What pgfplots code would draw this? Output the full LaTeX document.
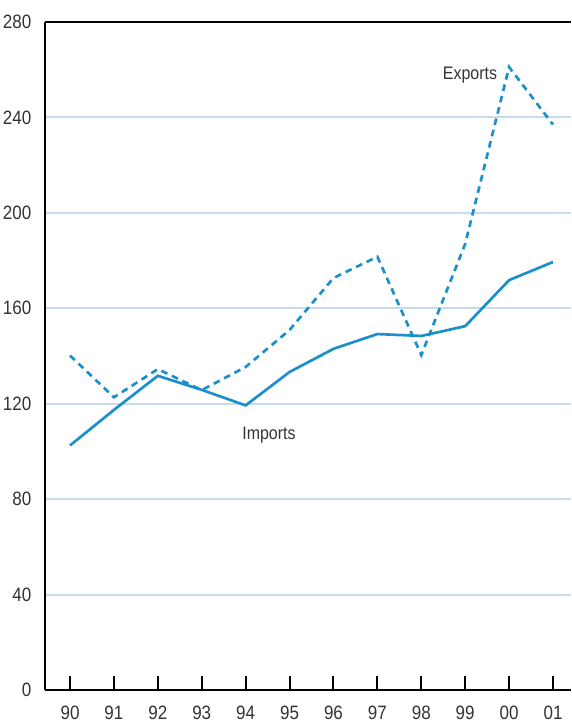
\documentclass[border=0pt]{standalone}
\usepackage{pgfplots}
\pgfplotsset{compat=1.18}
\usepackage{fontspec}
\setmainfont{Liberation Sans}[FakeStretch=0.88]
\definecolor{lineblue}{HTML}{1A8FCA}
\definecolor{gridblue}{HTML}{C6DBEC}
\definecolor{txt}{HTML}{333333}
\begin{document}
\begin{tikzpicture}
\path[use as bounding box] (-33.75pt,-24.75pt) rectangle (394.5pt,517.5pt);
\begin{axis}[
  at={(0,0)}, anchor=south west,
  scale only axis, width=394.5pt, height=501pt,
  xmin=-0.57, xmax=11.41, ymin=0, ymax=280,
  axis lines=left, axis line style={line width=1.5pt, black, -},
  xtick={0,...,11},
  xticklabels={90,91,92,93,94,95,96,97,98,99,00,01},
  ytick={0,40,...,280},
  ymajorgrids, grid style={gridblue, line width=1.5pt},
  major tick length=10.5pt,
  x tick style={line width=1.5pt, black},
  xtick align=inside,
  y tick style={draw=none},
  tick label style={font=\fontsize{14.5}{15}\selectfont, text=txt},
  /pgf/number format/assume math mode=true,
  xticklabel style={yshift=-8.5pt},
  yticklabel style={xshift=-1.5pt},
  clip=false,
]
\addplot[lineblue, line width=2pt] coordinates {
(0,102.5) (1,117.4) (2,131.7) (3,125.8) (4,119.3) (5,133.3) (6,143) (7,149.2) (8,148.4) (9,152.5) (10,171.8) (11,179.4)};
\addplot[lineblue, line width=2pt, dash pattern=on 5pt off 3.75pt] coordinates {
(0,140.2) (1,122.7) (2,134.5) (3,125.7) (4,135.4) (5,150.9) (6,172.7) (7,181.6) (8,140.4) (9,187) (10,261.1) (11,237)};
\draw[black, line width=1.5pt] (rel axis cs:0,1) -- (rel axis cs:1,1);
\node[text=txt, font=\fontsize{13.6}{14}\selectfont] at (axis cs:9.11,257.7) {Exports};
\node[text=txt, font=\fontsize{13.6}{14}\selectfont] at (axis cs:4.53,106.9) {Imports};
\end{axis}
\end{tikzpicture}
\end{document}
